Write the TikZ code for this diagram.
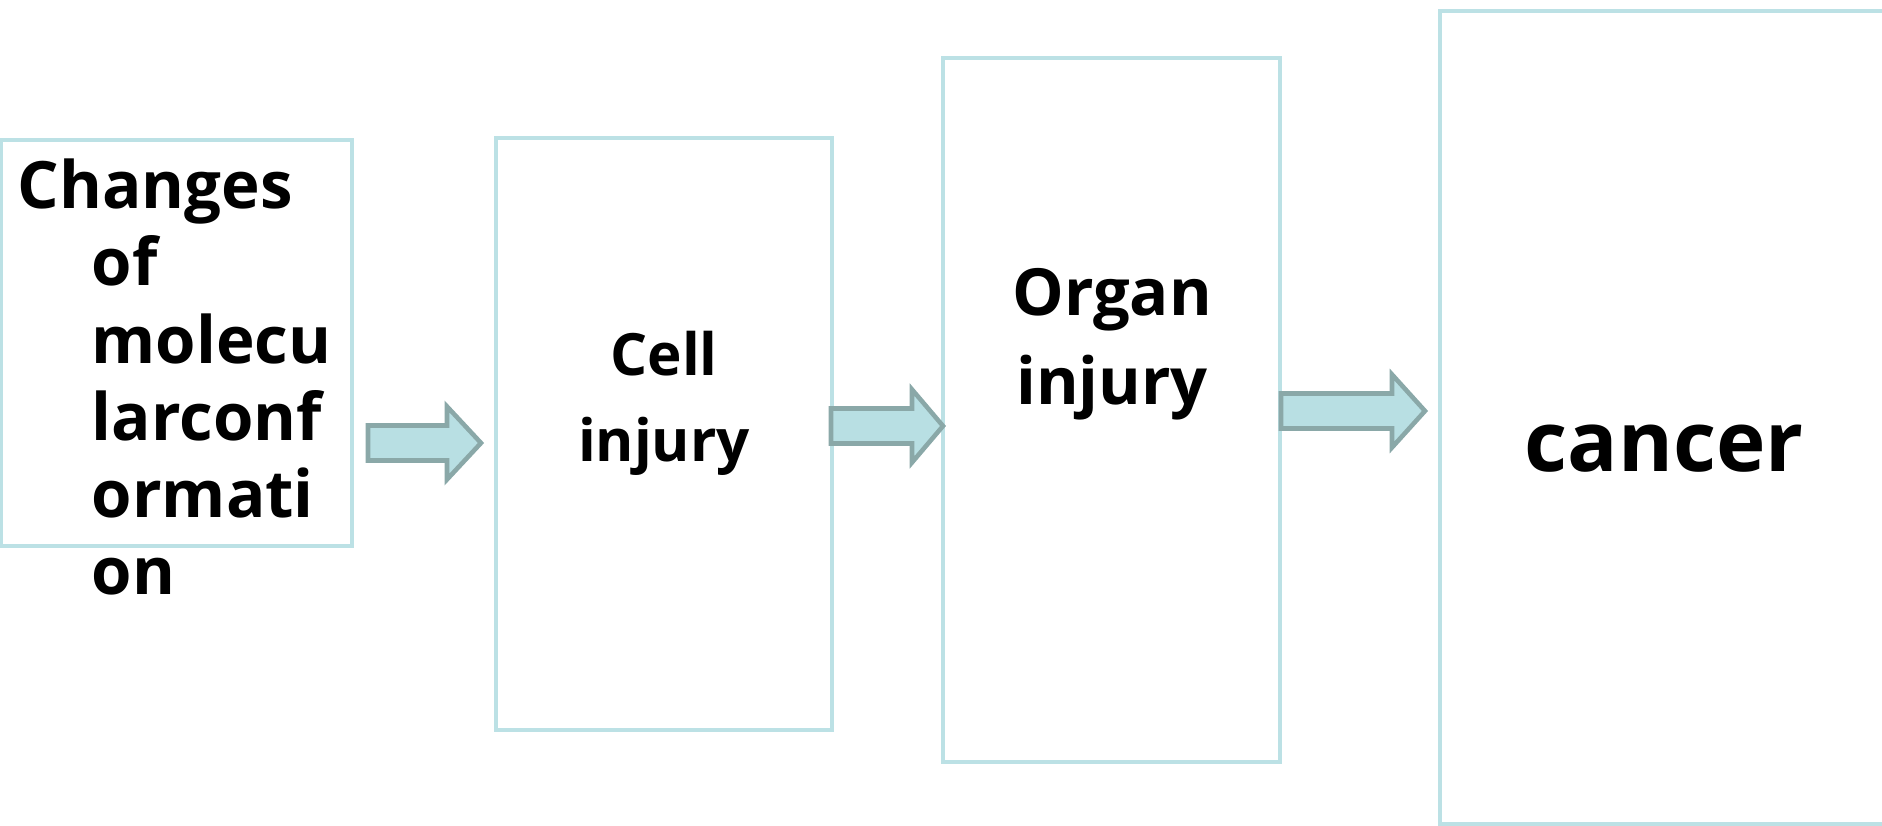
\documentclass[tikz,border=0pt]{standalone}
\usepackage{fontspec}
\setmainfont{Open Sans}
\usetikzlibrary{positioning}

\definecolor{boxline}{HTML}{BCE1E5}
\definecolor{arrowfill}{HTML}{B8DFE3}
\definecolor{arrowline}{HTML}{8AA8A8}

\tikzset{
  stage/.style={draw=boxline,line width=1.2pt,rectangle,inner sep=0pt},
  label/.style={inner sep=0pt,font=\bfseries},
  fat arrow/.style={draw=arrowline,fill=arrowfill,line width=1.3pt,line join=miter}
}

\begin{document}
\begin{tikzpicture}[x=0.1mm,y=-0.1mm]
  \useasboundingbox (0,0) rectangle (1882,826);
  % boxes
  \node[stage,minimum width=35.1mm,minimum height=40.6mm] (mol) at (176.5,343) {};
  \node[stage,minimum width=33.6mm,minimum height=59.2mm] (cell) at (664,434) {};
  \node[stage,minimum width=33.7mm,minimum height=70.4mm] (organ) at (1111.5,410) {};
  \node[stage,minimum width=45mm,minimum height=81.3mm] (cancer) at (1665,417.5) {};
  % texts (base = last line)
  \node[label,anchor=base west,align=left,font=\bfseries\fontsize{18.6pt}{22pt}\selectfont]
    (moltext) at (17,595) {Changes\\\hspace*{7.4mm}of\\\hspace*{7.4mm}molecu\\\hspace*{7.4mm}larconf\\\hspace*{7.4mm}ormati\\\hspace*{7.4mm}on};
  \node[label,anchor=base,align=center,font=\bfseries\fontsize{16.6pt}{24.7pt}\selectfont]
    (celltext) at (664,462) {Cell\\injury};
  \node[label,anchor=base,align=center,font=\bfseries\fontsize{18.5pt}{25.6pt}\selectfont]
    (organtext) at (1112,405) {Organ\\injury};
  \node[label,anchor=base,font=\bfseries\fontsize{23.8pt}{30pt}\selectfont]
    (cancertext) at (1664,472) {cancer};
  % arrows: left/head base/tip/centre
  \foreach \xa/\xb/\xt/\yc in {368/447/481/443, 831/912/943/426, 1281/1392/1425/411}
    \draw[fat arrow] (\xa,\yc-17.5) -- (\xb,\yc-17.5) -- (\xb,\yc-36.5) -- (\xt,\yc)
      -- (\xb,\yc+36.5) -- (\xb,\yc+17.5) -- (\xa,\yc+17.5) -- cycle;
\end{tikzpicture}
\end{document}
